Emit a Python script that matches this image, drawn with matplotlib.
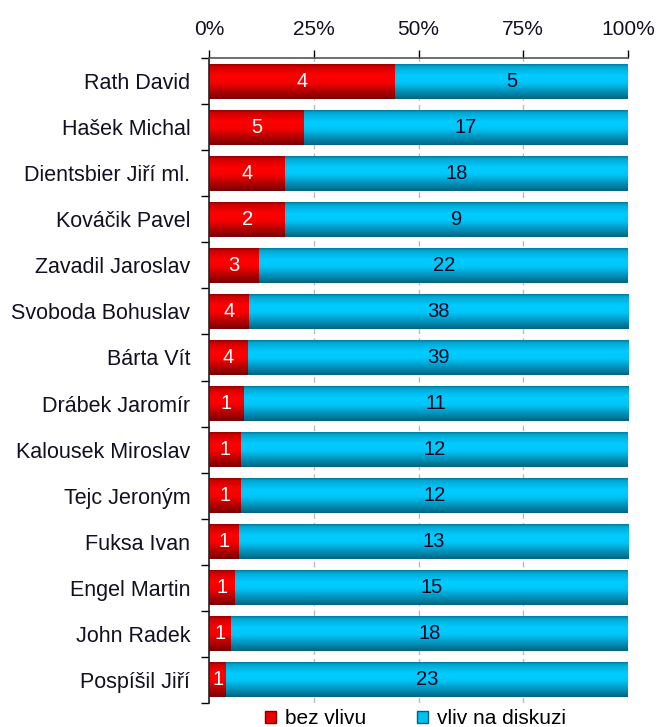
import numpy as np
import matplotlib.pyplot as plt
from matplotlib.colors import LinearSegmentedColormap

plt.rcParams['font.family'] = ['Liberation Sans', 'DejaVu Sans']

names = ["Rath David", "Hašek Michal", "Dientsbier Jiří ml.", "Kováčik Pavel",
         "Zavadil Jaroslav", "Svoboda Bohuslav", "Bárta Vít", "Drábek Jaromír",
         "Kalousek Miroslav", "Tejc Jeroným", "Fuksa Ivan", "Engel Martin",
         "John Radek", "Pospíšil Jiří"]
bez_vlivu = [4, 5, 4, 2, 3, 4, 4, 1, 1, 1, 1, 1, 1, 1]
vliv = [5, 17, 18, 9, 22, 38, 39, 11, 12, 12, 13, 15, 18, 23]
series_names = ["bez vlivu", "vliv na diskuzi"]

bez = np.array(bez_vlivu, float)
vl = np.array(vliv, float)
tot = bez + vl
p_bez = bez / tot * 100
p_vl = vl / tot * 100
y = np.arange(len(names))

fig = plt.figure(figsize=(6.57, 7.27), dpi=100)
ax = fig.add_axes([209 / 657, 24 / 727, 419 / 657, 645 / 727])

h = 0.76
# vertical shading profile (top -> bottom)
t = np.linspace(0, 1, 80)
prof = np.interp(t, [0, 0.1, 0.35, 0.55, 0.85, 1], [0.6, 0.85, 1.0, 0.97, 0.7, 0.55])
grad = prof[:, None]
red_cm = LinearSegmentedColormap.from_list("r", ["#6a0000", "#b00000", "#ff0000"])
blue_cm = LinearSegmentedColormap.from_list("b", ["#005a72", "#0090b8", "#00ccff"])

bars1 = ax.barh(y, p_bez, height=h, color="#ff0000", edgecolor="none")
bars2 = ax.barh(y, p_vl, left=p_bez, height=h, color="#00ccff", edgecolor="none")

for bars, cm in ((bars1, red_cm), (bars2, blue_cm)):
    for b in bars:
        x0, y0 = b.get_x(), b.get_y()
        w, hh = b.get_width(), b.get_height()
        im = ax.imshow(grad, cmap=cm, vmin=0.5, vmax=1.0, aspect="auto",
                       extent=[x0, x0 + w, y0 + hh, y0], zorder=2,
                       interpolation="bilinear")
        im.set_clip_path(b)

for i in range(len(names)):
    ax.text(p_bez[i] / 2, y[i], str(bez_vlivu[i]), ha="center", va="center",
            color="white", fontsize=14.5, zorder=3)
    ax.text(p_bez[i] + p_vl[i] / 2, y[i], str(vliv[i]), ha="center", va="center",
            color="#050520", fontsize=14.5, zorder=3)

ax.set_xlim(0, 100)
ax.set_ylim(len(names) - 0.5, -0.5)
ax.xaxis.tick_top()
ax.set_xticks([0, 25, 50, 75, 100])
ax.set_xticklabels(["0%", "25%", "50%", "75%", "100%"], fontsize=15, color="#111122")
ax.tick_params(axis="x", direction="out", length=6, width=1, pad=7.5)
ax.set_yticks(y)
ax.set_yticklabels(names, fontsize=15.5, color="#111122")
ax.set_yticks(np.arange(len(names) + 1) - 0.5, minor=True)
ax.tick_params(axis="y", which="major", length=0, pad=13.5)
ax.tick_params(axis="y", which="minor", length=6, width=1, direction="out")
ax.grid(axis="x", color="#bbbbbb", linestyle=(0, (4, 3)), linewidth=1, zorder=0)
ax.set_axisbelow(True)
for s in ("right", "bottom"):
    ax.spines[s].set_visible(False)
ax.spines["top"].set_color("#555555")
ax.spines["left"].set_color("#222222")
ax.spines["top"].set_linewidth(1.2)
ax.spines["left"].set_linewidth(1.2)

handles = [plt.Rectangle((0, 0), 1, 1, color="#ee0000", ec="#800000"),
           plt.Rectangle((0, 0), 1, 1, color="#00c0f0", ec="#006080")]
fig.legend(handles, series_names, loc="center", bbox_to_anchor=(0.632, 8 / 727),
           ncol=2, frameon=False, fontsize=15, handlelength=0.55, handleheight=0.55,
           columnspacing=2.45, handletextpad=0.4, borderpad=0)

fig.savefig("out.png", dpi=100)
